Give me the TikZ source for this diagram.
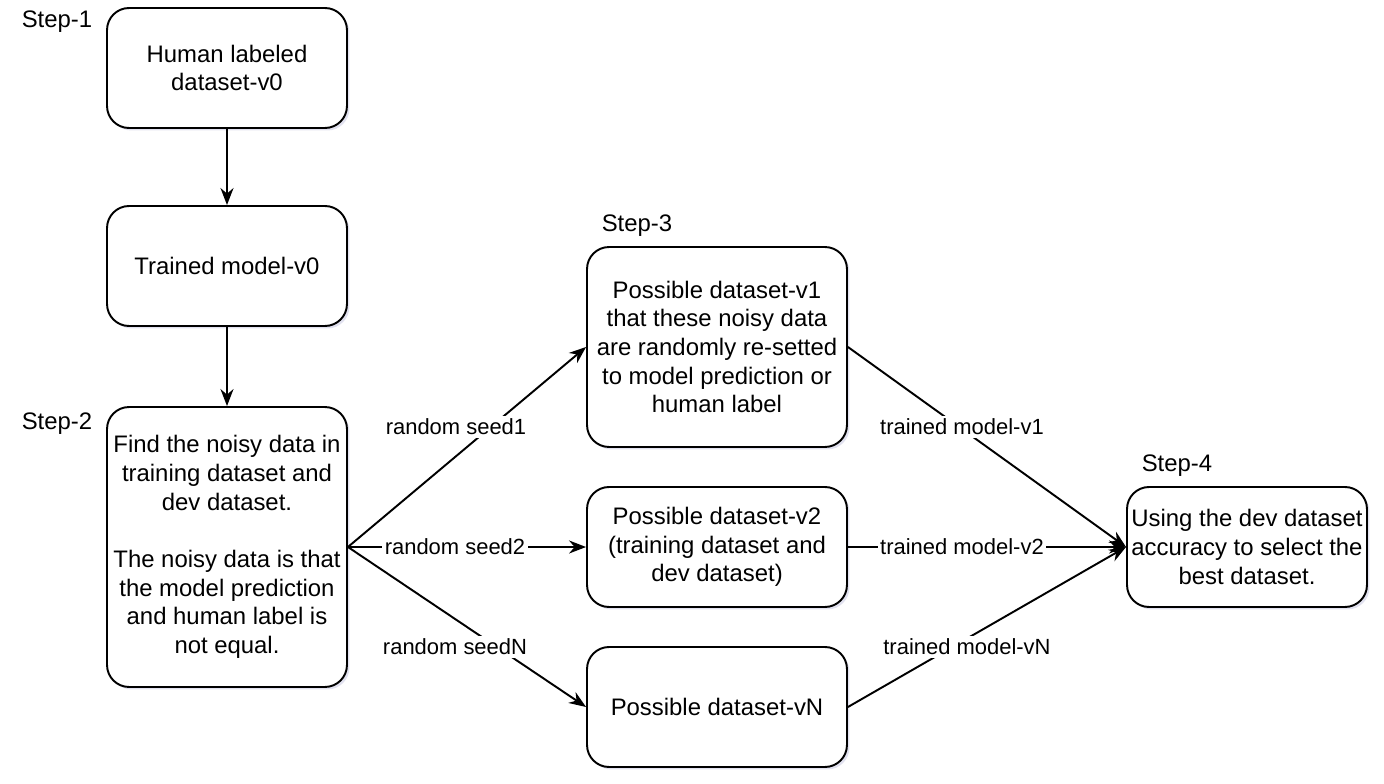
\documentclass[tikz,border=0pt]{standalone}
\usepackage{fontspec}
\setmainfont{Liberation Sans}
\usetikzlibrary{arrows.meta,shadows}

\tikzset{
  stepbox/.style={draw, line width=1.1pt, rounded corners=0.44cm, fill=white,
    align=center, inner sep=0pt,
    drop shadow={opacity=0.18, shadow xshift=0.05cm, shadow yshift=-0.05cm, fill=blue!30!gray}},
  steplabel/.style={inner sep=0pt},
  seedlabel/.style={fill=white, inner sep=1.5pt, font=\fontsize{12.5pt}{15pt}\selectfont},
  flow/.style={line width=1.1pt, -{Stealth[length=0.34cm, width=0.26cm]}},
}

\begin{document}
\begin{tikzpicture}[x=0.02cm, y=-0.02cm, font=\fontsize{13.6pt}{16.3pt}\selectfont]
			%%%%% START %%%%%
			\useasboundingbox (0, 0) rectangle (1384, 784);
			
			\node[steplabel] (step1) at (57, 22) {Step-1};
			\node[steplabel] (step2) at (57, 424) {Step-2};
			\node[steplabel] (step3) at (637, 226) {Step-3};
			\node[steplabel] (step4) at (1177, 466) {Step-4};
			
			\node[stepbox, minimum width=4.8cm, minimum height=2.4cm] (human) at (227, 68) {Human labeled\\dataset-v0};
			\node[stepbox, minimum width=4.8cm, minimum height=2.4cm] (model) at (227, 266) {Trained model-v0};
			\node[stepbox, minimum width=4.8cm, minimum height=5.6cm] (noisy) at (227, 547)
			  {Find the noisy data in\\training dataset and\\dev dataset.\\[16.3pt]The noisy data is that\\the model prediction\\and human label is\\not equal.};
			
			\node[stepbox, minimum width=5.2cm, minimum height=4cm] (setA) at (717, 347)
			  {Possible dataset-v1\\that these noisy data\\are randomly re-setted\\to model prediction or\\human label};
			\node[stepbox, minimum width=5.2cm, minimum height=2.4cm] (setB) at (717, 547)
			  {Possible dataset-v2\\(training dataset and\\dev dataset)};
			\node[stepbox, minimum width=5.2cm, minimum height=2.4cm] (setN) at (717, 707) {Possible dataset-vN};
			
			\node[stepbox, minimum width=4.8cm, minimum height=2.4cm] (best) at (1247, 547)
			  {Using the dev dataset\\accuracy to select the\\best dataset.};
			
			\draw[flow] (human) -- (model);
			\draw[flow] (model) -- (noisy);
			
			\draw[flow] (noisy.east) -- (setA.west);
			\draw[flow] (noisy.east) -- (setB.west);
			\draw[flow] (noisy.east) -- (setN.west);
			
			\draw[flow] (setA.east) -- (best.west);
			\draw[flow] (setB.east) -- (best.west);
			\draw[flow] (setN.east) -- (best.west);
			
			\node[seedlabel] (seedA) at (456, 427) {random seed1};
			\node[seedlabel] (seedB) at (455, 547) {random seed2};
			\node[seedlabel] (seedN) at (455, 647) {random seedN};
			
			\node[seedlabel] (trainA) at (962, 427) {trained model-v1};
			\node[seedlabel] (trainB) at (962, 547) {trained model-v2};
			\node[seedlabel] (trainN) at (967, 647) {trained model-vN};
			
			%%%%% END %%%%%
\end{tikzpicture}
\end{document}
